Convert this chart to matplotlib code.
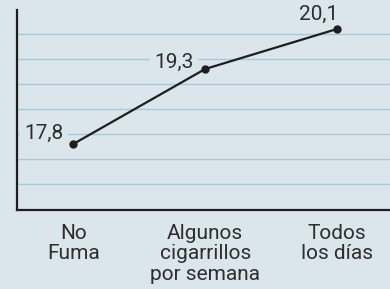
import matplotlib.pyplot as plt
import numpy as np

categorias = ['No\nFuma', 'Algunos\ncigarrillos\npor semana', 'Todos\nlos días']
valores = [17.8, 19.3, 20.1]

fondo = '#dae5ec'
oscuro = '#1e1e1e'
texto = '#2e2e2e'
plt.rcParams['font.family'] = ['Roboto', 'DejaVu Sans']

fig = plt.figure(figsize=(3.9, 2.89), dpi=100)
fig.patch.set_facecolor(fondo)
ax = fig.add_axes([17 / 390, 1 - 210 / 289, 373 / 390, 200 / 289])
ax.set_facecolor(fondo)

x = np.arange(len(categorias))
ax.plot(x, valores, color=oscuro, lw=1.6, marker='o', ms=5, zorder=3)

ax.set_xlim(-0.427, 2.402)
ax.set_ylim(16.48, 20.48)
ax.set_yticks(np.arange(17, 20.01, 0.5))
ax.set_yticklabels([])
ax.tick_params(axis='y', length=0)
ax.grid(axis='y', color='#a9c8d8', lw=1)
ax.set_axisbelow(True)

ax.set_xticks(x)
ax.set_xticklabels(categorias, fontsize=15, color=texto, linespacing=1.1)
ax.tick_params(axis='x', length=0, pad=10)

for s in ['top', 'right']:
    ax.spines[s].set_visible(False)
for s in ['left', 'bottom']:
    ax.spines[s].set_color(oscuro)
    ax.spines[s].set_linewidth(1.6)

desplaz = [(-7, 7.5, 'center'), (-8, 5, 'center'), (1, 6.5, 'baseline')]
caja = dict(facecolor=fondo, edgecolor='none', pad=3)
for xi, v, (dx, dy, va) in zip(x, valores, desplaz):
    ax.annotate(f'{v:.1f}'.replace('.', ','), (xi, v), xytext=(dx, dy),
                textcoords='offset points', ha='right', va=va, fontsize=15,
                color=texto, bbox=caja, zorder=2)

fig.savefig('out.png', dpi=100, facecolor=fondo)
